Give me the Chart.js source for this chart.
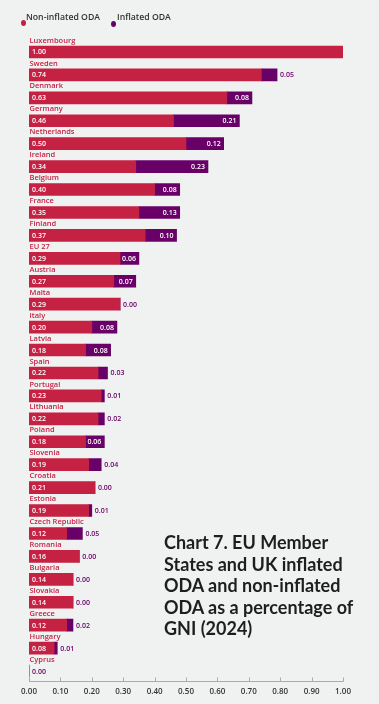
<!DOCTYPE html>
<html>
<head>
<meta charset="utf-8">
<script src="https://cdn.jsdelivr.net/npm/chart.js@4.4.1/dist/chart.umd.min.js"></script>
<style>
  html, body { margin: 0; padding: 0; background: #f0f2f1; }
  #wrap { position: relative; width: 379px; height: 704px; overflow: hidden; }
  canvas { position: absolute; left: 0; top: 0; }
  .leg { position: absolute; font-family: "Open Sans", sans-serif; font-weight: 600; font-size: 8.7px; color: #333; white-space: nowrap; }
  .dot { position: absolute; width: 5px; height: 6px; border-radius: 50%; }
  #title { position: absolute; left: 164px; top: 532px; font-family: Lato, sans-serif; font-weight: 700; font-size: 18px; line-height: 21.6px; color: #1e1e1e; white-space: nowrap; }
</style>
</head>
<body>
<div id="wrap">
  <canvas id="c" width="379" height="704"></canvas>
  <div class="dot" style="left:20.5px; top:20px; background:#c52143"></div>
  <div class="leg" style="left:26px; top:11px;">Non-inflated ODA</div>
  <div class="dot" style="left:110.5px; top:20.5px; background:#690068"></div>
  <div class="leg" style="left:117px; top:11px;">Inflated ODA</div>
  <div id="title">Chart 7. EU Member<br>States and UK inflated<br>ODA and non-inflated<br>ODA as a percentage of<br>GNI (2024)</div>
</div>
<script>
const categories = ["Luxembourg","Sweden","Denmark","Germany","Netherlands","Ireland","Belgium","France","Finland","EU 27","Austria","Malta","Italy","Latvia","Spain","Portugal","Lithuania","Poland","Slovenia","Croatia","Estonia","Czech Republic","Romania","Bulgaria","Slovakia","Greece","Hungary","Cyprus"];
const nonInflated = [1.00,0.74,0.63,0.46,0.50,0.34,0.40,0.35,0.37,0.29,0.27,0.29,0.20,0.18,0.22,0.23,0.22,0.18,0.19,0.21,0.19,0.12,0.16,0.14,0.14,0.12,0.08,0.00];
const inflated = [null,0.05,0.08,0.21,0.12,0.23,0.08,0.13,0.10,0.06,0.07,0.00,0.08,0.08,0.03,0.01,0.02,0.06,0.04,0.00,0.01,0.05,0.00,0.00,0.00,0.02,0.01,0.00];
const xTicks = [0,0.1,0.2,0.3,0.4,0.5,0.6,0.7,0.8,0.9,1.0];

const RED = '#c52143', PURPLE = '#690068';

const labelPlugin = {
  id: 'labels',
  afterDraw(chart) {
    const ctx = chart.ctx, xs = chart.scales.x, ys = chart.scales.y;
    const left = chart.chartArea.left;
    ctx.save();
    ctx.textBaseline = 'middle';
    categories.forEach((cat, i) => {
      const y = ys.getPixelForValue(i);
      ctx.font = '600 7.5px "Open Sans"';
      ctx.fillStyle = RED;
      ctx.textAlign = 'left';
      ctx.fillText(cat, left + 0.5, y - 11.5);
      const r = nonInflated[i];
      ctx.font = '600 7px "Open Sans"';
      if (r > 0) {
        ctx.fillStyle = '#ffffff';
        ctx.textAlign = 'left';
        ctx.fillText(r.toFixed(2), left + 3, y + 0.5);
      }
      const v = inflated[i];
      if (v !== null && v !== undefined) {
        const x1 = xs.getPixelForValue(r + v);
        if (v >= 0.06) {
          ctx.fillStyle = '#ffffff';
          ctx.textAlign = 'right';
          ctx.fillText(v.toFixed(2), x1 - 3, y + 0.5);
        } else {
          ctx.fillStyle = PURPLE;
          ctx.textAlign = 'left';
          ctx.fillText(v.toFixed(2), x1 + 3, y + 0.5);
        }
      }
    });
    // axis line and upward ticks
    const ay = Math.round(chart.chartArea.bottom - 2);
    ctx.strokeStyle = '#aaaaaa';
    ctx.lineWidth = 1;
    ctx.beginPath();
    ctx.moveTo(xs.getPixelForValue(0), ay + 0.5);
    ctx.lineTo(xs.getPixelForValue(1) + 0.5, ay + 0.5);
    xTicks.forEach(t => {
      const px = Math.round(xs.getPixelForValue(t)) + 0.5;
      ctx.moveTo(px, ay + 0.5);
      ctx.lineTo(px, ay - 3.5);
    });
    ctx.stroke();
    ctx.restore();
  }
};

new Chart(document.getElementById('c'), {
  type: 'bar',
  data: {
    labels: categories,
    datasets: [
      { label: 'Non-inflated ODA', data: nonInflated, backgroundColor: RED, barThickness: 12, borderWidth: 0 },
      { label: 'Inflated ODA', data: inflated, backgroundColor: PURPLE, barThickness: 12, borderWidth: 0 }
    ]
  },
  options: {
    indexAxis: 'y',
    responsive: false,
    animation: false,
    events: [],
    layout: { padding: { left: 29, right: 36, top: 40.5, bottom: 8.5 } },
    plugins: { legend: { display: false }, tooltip: { enabled: false } },
    scales: {
      x: {
        stacked: true, min: 0, max: 1,
        afterBuildTicks(s) { s.ticks = xTicks.map(v => ({ value: v })); },
        afterFit(s) { s.height = 13; },
        grid: { display: false, tickLength: 0 },
        border: { display: false },
        ticks: {
          padding: 4,
          color: '#333',
          font: { family: 'Open Sans', size: 8, weight: '600' },
          callback: v => Number(v).toFixed(2),
          maxRotation: 0, autoSkip: false
        }
      },
      y: {
        stacked: true, display: false, offset: true
      }
    }
  },
  plugins: [labelPlugin]
});
</script>
</body>
</html>
